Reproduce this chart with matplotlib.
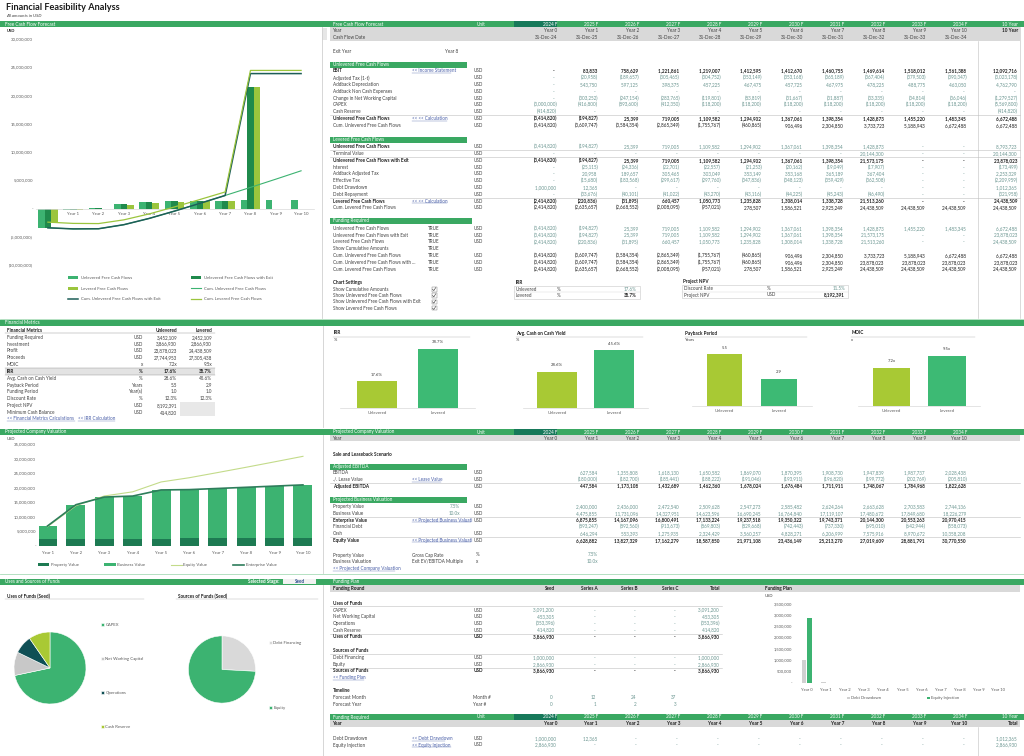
import matplotlib.pyplot as plt
from matplotlib.patches import Rectangle, Patch
from matplotlib.lines import Line2D

plt.rcParams['font.family'] = ['Lato', 'DejaVu Sans']

W, H = 1024, 756

# ---------------- data ----------------
years = ["Year 0", "Year 1", "Year 2", "Year 3", "Year 4", "Year 5",
         "Year 6", "Year 7", "Year 8", "Year 9", "Year 10"]
fc_years = ["2024 F", "2025 F", "2026 F", "2027 F", "2028 F", "2029 F",
            "2030 F", "2031 F", "2032 F", "2033 F", "2034 F"]
cf_dates = ["31-Dec-24", "31-Dec-25", "31-Dec-26", "31-Dec-27", "31-Dec-28", "31-Dec-29",
            "31-Dec-30", "31-Dec-31", "31-Dec-32", "31-Dec-33", "31-Dec-34"]

ebit = [0, 83833, 758629, 1221861, 1219007, 1412595, 1412670, 1460755, 1469614, 1518012, 1561388]
adj_tax = [0, -20958, -189657, -305465, -304752, -353149, -353168, -365189, -367404, -379503, -390347]
depreciation = [0, 543750, 597125, 398375, 457225, 467475, 457725, 467975, 478225, 488775, 463050]
non_cash = [0, 0, 0, 0, 0, 0, 0, 0, 0, 0, 0]
nwc_change = [0, -303252, -247154, -283765, -119801, -83819, -31667, -31887, -33335, -34814, -36046]
capex = [-3000000, -416800, -893600, -412350, -118200, -118200, -118200, -118200, -118200, -118200, -118200]
cash_reserve = [-414820, 0, 0, 0, 0, 0, 0, 0, 0, 0, 0]
ufcf = [-3414820, -194827, 25399, 719005, 1109582, 1294902, 1367061, 1398354, 1428873, 1455220, 1483345]
cum_ufcf = [-3414820, -3609747, -3584354, -2865349, -1755767, -460865, 906496, 2304850, 3733723, 5188943, 6672488]
ufcf_to_exit = [-3414820, -194827, 25399, 719005, 1109582, 1294902, 1367061, 1398354, 1428873, 0, 0]
terminal_value = [0, 0, 0, 0, 0, 0, 0, 0, 20144300, 0, 0]
ufcf_exit = [-3414820, -194827, 25399, 719005, 1109582, 1294902, 1367061, 1398354, 21573175, 0, 0]
interest = [0, -25115, -24336, -22701, -22557, -21253, -20162, -19049, -17907, 0, 0]
addback_tax = [0, 20958, 189657, 305465, 303049, 353149, 353168, 365189, 367404, 0, 0]
effective_tax = [0, -15680, -183568, -299617, -297760, -347836, -348123, -359429, -362508, 0, 0]
debt_drawdown = [1000000, 12365, 0, 0, 0, 0, 0, 0, 0, 0, 0]
debt_repayment = [0, -33676, -40101, -41022, -43270, -43116, -44225, -45243, -46490, 0, 0]
lfcf = [-2414820, -220836, -31895, 660457, 1050773, 1235828, 1308014, 1338728, 21513260, 0, 0]
cum_ufcf_exit = [-3414820, -3609747, -3584354, -2865349, -1755767, -460865, 906496, 2304850, 23878023, 23878023, 23878023]
cum_lfcf = [-2414820, -2635657, -2668552, -2008095, -957021, 278507, 1586521, 2925249, 24438509, 24438509, 24438509]
equity_injection = [2866930, 0, 0, 0, 0, 0, 0, 0, 0, 0, 0]

# 10 Year column as shown
tot = {
    "ebit": 12092716, "adj_tax": -3023178, "dep": 4762790, "non_cash": 0, "nwc": -1279527,
    "capex": -5569800, "cash_res": -414820, "ufcf": 6672488, "cum_ufcf": 6672488,
    "ufcf_to_exit": 8793723, "tv": 20144300, "ufcf_exit": 23878023, "interest": -173499,
    "addback": 2253329, "eff_tax": -2209959, "debt_draw": 1012365, "debt_rep": -321958,
    "lfcf": 24438509, "cum_ufcf_exit": 23878023, "cum_lfcf": 24438509, "equity_inj": 2866930,
}

# financial metrics
metric_labels = ["Funding Required", "Investment", "Profit", "Proceeds", "MOIC", "IRR",
                 "Avg. Cash on Cash Yield", "Payback Period", "Funding Period", "Discount Rate",
                 "Project NPV", "Minimum Cash Balance"]
metric_units = ["USD", "USD", "USD", "USD", "x", "%", "%", "Years", "Year(s)", "%", "USD", "USD"]
funding_required = [3452109, 2452109]
investment = [3866930, 2866930]
profit = [23878023, 24438509]
proceeds = [27744953, 27305438]
funding_period = [1.0, 1.0]
discount_rate = [12.3, 12.3]
project_npv = 8192391
min_cash = 414820

bar_cats = ["Unlevered", "Levered"]
irr = [17.6, 38.7]
coc_yield = [28.6, 45.6]
payback = [5.5, 2.9]
moic = [7.2, 9.5]

# projected company valuation (Year 1 .. Year 10)
val_years = ["Year 1", "Year 2", "Year 3", "Year 4", "Year 5",
             "Year 6", "Year 7", "Year 8", "Year 9", "Year 10"]
ebitda = [627584, 1355808, 1618130, 1650582, 1869070, 1870395, 1908730, 1947839, 1987737, 2028438]
lease_value = [-180000, -182700, -185441, -188222, -191046, -193911, -196820, -199772, -202769, -205810]
adj_ebitda = [447584, 1173108, 1432689, 1462360, 1678024, 1676484, 1711911, 1748067, 1784968, 1822628]
property_value = [2400000, 2436000, 2472540, 2509628, 2547273, 2585482, 2624264, 2663628, 2703583, 2744136]
business_value = [4475855, 11731096, 14327951, 14623596, 16690245, 16764840, 17119107, 17480672, 17849680, 18226279]
enterprise_value = [6875855, 14167096, 16800491, 17133224, 19237518, 19350322, 19743371, 20144300, 20553263, 20970415]
financial_debt = [-893247, -892560, -913673, -869803, -829668, -742443, -737330, -695010, -642944, -558073]
cash_balance = [646294, 553393, 1275935, 2324429, 3560257, 4828271, 6206999, 7575916, 8970672, 10358208]
equity_value = [6628882, 13827329, 17162279, 18587850, 21971108, 23436149, 25213270, 27019609, 28881791, 30770550]

# uses and sources of funds (seed)
uses_labels = ["CAPEX", "Net Working Capital", "Operations", "Cash Reserve"]
uses_seed = [3091200, 453305, -353396, 414820]
uses_total = 3866930
sources_labels = ["Debt Financing", "Equity"]
sources_seed = [1000000, 2866930]
rounds = ["Seed", "Series A", "Series B", "Series C", "Total"]
forecast_month = [0, 12, 24, 37]
forecast_year = [0, 1, 2, 3]

# ---------------- styling ----------------
GREEN = "#3aa862"
DARKCELL = "#17795a"
BAND = "#d9d9d9"
TXT = "#404040"
DARK = "#1e1e1e"
TEAL = "#6a9590"
LINK = "#4a5fa8"
FS = 3.3

C_UNL = "#3cb371"
C_EXIT = "#1f8a4c"
C_LEV = "#9bc53d"
C_CUM_EXIT = "#1d5e57"
C_BAR_U = "#a8c934"
C_BAR_L = "#3dba74"

COLS = [557 + 41 * k for k in range(11)]
TOTAL_X = 1018

fig = plt.figure(figsize=(W / 100, H / 100), dpi=100)


def text(x, y, s, size=FS, color=TXT, ha="left", weight="normal", **kw):
    fig.text(x / W, 1 - y / H, s, fontsize=size, color=color, ha=ha, va="center",
             fontweight=weight, **kw)


def box(x0, y0, x1, y1, color, ec="none", lw=0.0, z=0):
    fig.add_artist(Rectangle((x0 / W, 1 - y1 / H), (x1 - x0) / W, (y1 - y0) / H,
                             transform=fig.transFigure, facecolor=color, edgecolor=ec,
                             linewidth=lw, zorder=z))


def hline(x0, x1, y, color="#bfbfbf", lw=0.4):
    fig.add_artist(Line2D([x0 / W, x1 / W], [1 - y / H, 1 - y / H],
                          transform=fig.transFigure, color=color, lw=lw))


def vline(x, y0, y1, color="#bfbfbf", lw=0.4):
    fig.add_artist(Line2D([x / W, x / W], [1 - y0 / H, 1 - y1 / H],
                          transform=fig.transFigure, color=color, lw=lw))


def link(x, y, s):
    text(x, y, s, color=LINK)
    hline(x, x + len(s) * 2.05, y + 2.2, color=LINK, lw=0.25)


def num(v):
    if v == 0:
        return "-  "
    if v < 0:
        return f"({-v:,.0f})"
    return f"{v:,.0f} "


def axes_px(x0, y0, x1, y1):
    return fig.add_axes([x0 / W, 1 - y1 / H, (x1 - x0) / W, (y1 - y0) / H])


def trow(y, label, vals=None, total=None, unit="USD", bold=False, color=TEAL,
         lnk=None, flag=None, cols=COLS, line=False, vbold=None):
    if line:
        hline(330, 1020, y - 3.4)
    text(333, y, label, weight="bold" if bold else "normal", color=DARK if bold else TXT)
    if lnk:
        link(412, y, lnk)
    if flag:
        text(428, y, flag)
    if unit:
        text(474, y, unit)
    vb = bold if vbold is None else vbold
    if vals is not None:
        for v, x in zip(vals, cols):
            text(x, y, num(v), ha="right", color=color, weight="bold" if vb else "normal")
    if total is not None:
        text(TOTAL_X, y, num(total), ha="right", color=color, weight="bold" if vb else "normal")


def green_label(y0, s, x1=467):
    box(330, y0, x1, y0 + 6, GREEN)
    text(333, y0 + 3, s, color="white")


def section_band(y0, x0=0, x1=1024):
    box(x0, y0, x1, y0 + 6, GREEN)


def year_header(y0, label, total_label=None):
    box(514, y0, 557, y0 + 6, DARKCELL)
    text(333, y0 + 3, label, color="white")
    text(477, y0 + 3, "Unit", color="white")
    for x, s in zip(COLS, fc_years):
        text(x, y0 + 3, s, ha="right", color="white")
    if total_label:
        text(TOTAL_X, y0 + 3, total_label, ha="right", color="white")


# ---------------- page header ----------------
text(6, 7, "Financial Feasibility Analyss", size=6.6, weight="bold", color="#1a1a1a")
text(6, 16, "All amounts in USD", size=3.2, style="italic")

# ================= section 1: free cash flow =================
section_band(21)
text(5, 24, "Free Cash Flow Forecast", color="white")
year_header(21, "Free Cash Flow Forecast", "10 Year")
box(330, 27, 1020, 41, BAND)
text(333, 30.5, "Year")
text(333, 37.5, "Cash Flow Date")
for x, s, d in zip(COLS, years, cf_dates):
    text(x, 30.5, s, ha="right")
    text(x, 37.5, d, ha="right")
text(TOTAL_X, 30.5, "10 Year", ha="right", weight="bold", color=DARK)
vline(978, 41, 318)
vline(1020, 27, 318)
vline(322, 27, 318, color="#d0d0d0", lw=0.6)
box(322, 28, 327, 40, "#e6e6e6")

text(333, 51.5, "Exit Year")
text(458, 51.5, "Year 8", ha="right")

green_label(62, "Unlevered Free Cash Flows")
y = 71.0
dy = 6.78
trow(y, "EBIT", ebit, tot["ebit"], bold=True, color=DARK, lnk="<< Income Statement")
trow(y + dy, "Adjusted Tax (1-t)", adj_tax, tot["adj_tax"])
trow(y + 2 * dy, "Addback Depreciation", depreciation, tot["dep"])
trow(y + 3 * dy, "Addback Non Cash Expenses", non_cash, tot["non_cash"])
trow(y + 4 * dy, "Change in Net Working Capital", nwc_change, tot["nwc"])
trow(y + 5 * dy, "CAPEX", capex, tot["capex"])
trow(y + 6 * dy, "Cash Reserve", cash_reserve, tot["cash_res"])
trow(y + 7 * dy, "Unlevered Free Cash Flows", ufcf, tot["ufcf"], bold=True, color=DARK,
     lnk="<< << Calculation", line=True)
trow(y + 8 * dy, "Cum. Unlevered Free Cash Flows", cum_ufcf, tot["cum_ufcf"], color=DARK)

green_label(136.5, "Levered Free Cash Flows")
y = 146.8
trow(y, "Unlevered Free Cash Flows", ufcf_to_exit, tot["ufcf_to_exit"], bold=True, vbold=False)
trow(y + dy, "Terminal Value", terminal_value, tot["tv"], line=True)
trow(y + 2 * dy, "Unlevered Free Cash Flows with Exit", ufcf_exit, tot["ufcf_exit"], bold=True,
     color=DARK, line=True)
trow(y + 3 * dy, "Interest", interest, tot["interest"])
trow(y + 4 * dy, "Addback Adjusted Tax", addback_tax, tot["addback"])
trow(y + 5 * dy, "Effective Tax", effective_tax, tot["eff_tax"])
trow(y + 6 * dy, "Debt Drawdown", debt_drawdown, tot["debt_draw"])
trow(y + 7 * dy, "Debt Repayment", debt_repayment, tot["debt_rep"])
trow(y + 8 * dy, "Levered Free Cash Flows", lfcf, tot["lfcf"], bold=True, color=DARK,
     lnk="<< << Calculation", line=True)
trow(y + 9 * dy, "Cum. Levered Free Cash Flows", cum_lfcf, tot["cum_lfcf"], color=DARK)

green_label(217.5, "Funding Required", x1=472)
y = 228.4
trow(y, "Unlevered Free Cash Flows", ufcf, tot["ufcf"], flag="TRUE")
trow(y + dy, "Unlevered Free Cash Flows with Exit", ufcf_exit, tot["ufcf_exit"], flag="TRUE")
trow(y + 2 * dy, "Levered Free Cash Flows", lfcf, tot["lfcf"], flag="TRUE")
trow(y + 3 * dy, "Show Cumulative Amounts", flag="TRUE", unit=None)
trow(y + 4 * dy, "Cum. Unlevered Free Cash Flows", cum_ufcf, tot["cum_ufcf"], flag="TRUE", color=DARK)
trow(y + 5 * dy, "Cum. Unlevered Free Cash Flows with ...", cum_ufcf_exit, tot["cum_ufcf_exit"],
     flag="TRUE", color=DARK)
trow(y + 6 * dy, "Cum. Levered Free Cash Flows", cum_lfcf, tot["cum_lfcf"], flag="TRUE", color=DARK)

text(333, 282.7, "Chart Settings", weight="bold", color=DARK)
for i, s in enumerate(["Show Cumulative Amounts", "Show Unlevered Free Cash Flows",
                       "Show Unlevered Free Cash Flows with Exit", "Show Levered Free Cash Flows"]):
    yy = 289.2 + i * 6.3
    text(333, yy, s)
    box(431.5, yy - 2.3, 436.5, yy + 2.3, "white", ec="#707070", lw=0.3, z=3)
    fig.add_artist(Line2D([432.5 / W, 433.8 / W, 435.7 / W], [1 - yy / H, 1 - (yy + 1.4) / H,
                          1 - (yy - 1.6) / H], transform=fig.transFigure, color="#303030", lw=0.4,
                          zorder=4))

# IRR / NPV boxes
text(516, 282.7, "IRR", weight="bold", color=DARK)
box(514, 286, 640, 299, "none", ec="#c8c8c8", lw=0.4)
hline(514, 640, 292.5, color="#d8d8d8", lw=0.3)
text(516, 289.2, "Unlevered")
text(557, 289.2, "%")
text(637, 289.2, f"{irr[0]:.1f}%", ha="right", color=TEAL)
text(516, 295.5, "Levered")
text(557, 295.5, "%")
text(637, 295.5, f"{irr[1]:.1f}%", ha="right", weight="bold", color=DARK)

text(683, 281.7, "Project NPV", weight="bold", color=DARK)
box(682, 285, 848, 298.5, "none", ec="#c8c8c8", lw=0.4)
hline(682, 848, 291.8, color="#d8d8d8", lw=0.3)
text(684, 288.5, "Discount Rate")
text(767, 288.5, "%")
text(845, 288.5, "11.5%", ha="right", color=TEAL)
text(684, 295.0, "Project NPV")
text(767, 295.0, "USD")
text(845, 295.0, f"{project_npv:,.0f}", ha="right", weight="bold", color=DARK)

hline(0, 1024, 318.5, color="#a8dcb8", lw=0.6)

# ---- FCF chart ----
text(7, 31, "USD", size=3.0, weight="bold", color=DARK)
ax = axes_px(36, 39, 314, 265)
xs = list(range(len(years)))
bw = 0.26
h1 = ax.bar([x - bw for x in xs], ufcf, bw, color=C_UNL, label="Unlevered Free Cash Flows", zorder=2)
h2 = ax.bar(xs, ufcf_exit, bw, color=C_EXIT, label="Unlevered Free Cash Flows with Exit", zorder=2)
h3 = ax.bar([x + bw for x in xs], lfcf, bw, color=C_LEV, label="Levered Free Cash Flows", zorder=2)
l1, = ax.plot(xs, cum_ufcf, color=C_UNL, lw=0.8, label="Cum. Unlevered Free Cash Flows", zorder=3)
l2, = ax.plot(xs, cum_ufcf_exit, color=C_CUM_EXIT, lw=1.1,
              label="Cum. Unlevered Free Cash Flows with Exit", zorder=3)
l3, = ax.plot(xs, cum_lfcf, color=C_LEV, lw=0.9, label="Cum. Levered Free Cash Flows", zorder=3)
ax.set_xlim(-0.47, 10.51)
ax.set_ylim(-10e6, 30e6)
yt = [-10e6, -5e6, 0, 5e6, 10e6, 15e6, 20e6, 25e6, 30e6]
ax.set_yticks(yt)
ax.set_yticklabels(["-" if v == 0 else (f"({-v:,.0f})" if v < 0 else f"{v:,.0f}") for v in yt])
ax.set_xticks(xs)
ax.set_xticklabels(years)
ax.tick_params(length=0, labelsize=3.1, labelcolor="#595959")
ax.tick_params(axis="x", pad=2.5)
ax.tick_params(axis="y", pad=2.2)
for s in ["top", "right", "left"]:
    ax.spines[s].set_visible(False)
ax.spines["bottom"].set_position(("data", 0))
ax.spines["bottom"].set_color("#d9d9d9")
ax.spines["bottom"].set_linewidth(0.5)
ax.set_facecolor("none")
ax.legend(handles=[h1, h3, l2, h2, l1, l3], ncol=2, loc="upper left",
          bbox_to_anchor=(66 / W, 1 - 274 / H), bbox_transform=fig.transFigure,
          frameon=False, fontsize=3.1, handlelength=2.4, handleheight=0.5,
          labelspacing=1.55, columnspacing=7.0, borderpad=0, handletextpad=0.6,
          labelcolor="#595959")

# ================= section 2: financial metrics =================
section_band(320)
text(5, 323, "Financial Metrics", color="white")
text(7, 330, "Financial Metrics", weight="bold", color=DARK)
text(177, 330, "Unlevered", ha="right", weight="bold", color=DARK)
text(212, 330, "Levered", ha="right", weight="bold", color=DARK)
hline(5, 215, 333.2, color="#909090", lw=0.3)
metric_unl = [f"{funding_required[0]:,.0f}", f"{investment[0]:,.0f}", f"{profit[0]:,.0f}",
              f"{proceeds[0]:,.0f}", f"{moic[0]:.1f}x", f"{irr[0]:.1f}%", f"{coc_yield[0]:.1f}%",
              f"{payback[0]:.1f}", f"{funding_period[0]:.1f}", f"{discount_rate[0]:.1f}%",
              f"{project_npv:,.0f}", f"{min_cash:,.0f}"]
metric_lev = [f"{funding_required[1]:,.0f}", f"{investment[1]:,.0f}", f"{profit[1]:,.0f}",
              f"{proceeds[1]:,.0f}", f"{moic[1]:.1f}x", f"{irr[1]:.1f}%", f"{coc_yield[1]:.1f}%",
              f"{payback[1]:.1f}", f"{funding_period[1]:.1f}", f"{discount_rate[1]:.1f}%", "", ""]
box(180, 402, 215, 416, "#e8e8e8")
for i, (lab, u, a, b) in enumerate(zip(metric_labels, metric_units, metric_unl, metric_lev)):
    yy = 337.3 + i * 6.83
    bold = lab == "IRR"
    if bold:
        box(5, yy - 3.3, 215, yy + 3.3, "#e3e3e3")
        hline(5, 215, yy - 3.3, color="#909090", lw=0.3)
        hline(5, 215, yy + 3.3, color="#909090", lw=0.3)
    c = DARK if bold else TXT
    w = "bold" if bold else "normal"
    text(7, yy, lab, weight=w, color=c)
    text(143, yy, u, ha="right", weight=w, color=c)
    text(177, yy, a, ha="right", weight=w, color=c)
    text(212, yy, b, ha="right", weight=w, color=c)
link(7, 419, "<< Financial Metrics Calculations")
link(78, 419, "<< IRR Calculation")
vline(322.5, 326, 427, color="#d0d0d0", lw=0.6)


def small_bar(x0, x1, ybase, ytop, ymax, vals, title, unit, fmt, width):
    text(x0 - 7, 333, title, weight="bold", color=DARK)
    text(x0 - 7, 340, unit, size=3.0)
    hline(x0 - 7, x1 - 5, 336.5, color="#b0b0b0", lw=0.3)
    a = axes_px(x0, ytop, x1, ybase)
    bars = a.bar([0, 1], vals, width, color=[C_BAR_U, C_BAR_L])
    for r, v in zip(bars, vals):
        a.annotate(fmt(v), (r.get_x() + r.get_width() / 2, v), xytext=(0, 3.2),
                   textcoords="offset points", ha="center", va="bottom", fontsize=3.1,
                   color="#404040")
    a.set_xlim(-0.6, 1.6)
    a.set_ylim(0, ymax)
    a.set_xticks([0, 1])
    a.set_xticklabels(bar_cats)
    a.set_yticks([])
    a.tick_params(length=0, labelsize=3.1, labelcolor="#595959", pad=2.5)
    for s in ["top", "right", "left"]:
        a.spines[s].set_visible(False)
    a.spines["bottom"].set_color("#d9d9d9")
    a.spines["bottom"].set_linewidth(0.5)
    a.set_facecolor("none")


small_bar(340.4, 474.6, 408, 339, 45.2, irr, "IRR", "%", lambda v: f"{v:.1f}%", 0.65)
small_bar(522.8, 648.2, 408, 339, 54.3, coc_yield, "Avg. Cash on Cash Yield", "%",
          lambda v: f"{v:.1f}%", 0.70)
small_bar(691.8, 811.7, 406, 339, 7.09, payback, "Payback Period", "Years",
          lambda v: f"{v:.1f}", 0.66)
small_bar(858.2, 980.3, 406, 339, 12.64, moic, "MOIC", "x", lambda v: f"{v:.1f}x", 0.67)

# ================= section 3: projected company valuation =================
section_band(429)
text(5, 432, "Projected Company Valuation", color="white")
box(514, 429, 557, 435, DARKCELL)
text(333, 432, "Projected Company Valuation", color="white")
text(477, 432, "Unit", color="white")
for x, s in zip(COLS, fc_years):
    text(x, 432, s, ha="right", color="white")
box(330, 435, 1020, 441.5, BAND)
text(333, 438.3, "Year")
for x, s in zip(COLS, years):
    text(x, 438.3, s, ha="right")
text(333, 454, "Sale and Leaseback Scenario", weight="bold", color=DARK)
green_label(463.5, "Adjusted EBITDA")
vcols = COLS[1:]
trow(472.7, "EBITDA", ebitda, cols=vcols)
trow(479.4, "./. Lease Value", lease_value, cols=vcols, lnk="<< Lease Value")
trow(486.1, "Adjusted EBITDA", adj_ebitda, cols=vcols, bold=True, color=DARK, line=True)
green_label(496.5, "Projected Business Valuation")
trow(506.7, "Property Value", property_value, cols=vcols)
text(460, 506.7, "7.5%", ha="right", color=TEAL)
trow(513.4, "Business Value", business_value, cols=vcols)
text(460, 513.4, "10.0x", ha="right", color=TEAL)
trow(520.1, "Enterprise Value", enterprise_value, cols=vcols, bold=True, color=DARK, line=True,
     lnk="<< Projected Business Valuati")
trow(526.8, "Financial Debt", financial_debt, cols=vcols, unit=None)
trow(533.5, "Cash", cash_balance, cols=vcols)
trow(540.2, "Equity Value", equity_value, cols=vcols, bold=True, color=DARK, line=True,
     lnk="<< Projected Business Valuati")
text(333, 555, "Property Value")
text(412, 555, "Gross Cap Rate")
text(476, 555, "%")
text(COLS[1], 555, "7.5%", ha="right", color=TEAL)
text(333, 561.8, "Business Valuation")
text(412, 561.8, "Exit EV/EBITDA Multiple")
text(476, 561.8, "x")
text(COLS[1], 561.8, "10.0x", ha="right", color=TEAL)
link(333, 568.5, "<< Projected Company Valuation")
vline(322.5, 435, 573, color="#d0d0d0", lw=0.6)
hline(0, 1024, 573.5, color="#a8dcb8", lw=0.6)

# valuation chart
text(7, 438.5, "USD", size=3.0)
ax2 = axes_px(39, 444, 318, 546)
vx = list(range(len(val_years)))
b1 = ax2.bar(vx, property_value, 0.67, color="#1d7a52", label="Property Value", zorder=2)
b2 = ax2.bar(vx, business_value, 0.67, bottom=property_value, color=C_UNL,
             label="Business Value", zorder=2)
e1, = ax2.plot(vx, equity_value, color="#c3db8a", lw=0.8, label="Equity Value", zorder=3)
e2, = ax2.plot(vx, enterprise_value, color="#2e7d5b", lw=1.2, label="Enterprise Value", zorder=3)
ax2.set_xlim(-0.3, 9.53)
ax2.set_ylim(0, 35e6)
yt2 = [0, 5e6, 10e6, 15e6, 20e6, 25e6, 30e6, 35e6]
ax2.set_yticks(yt2)
ax2.set_yticklabels(["-" if v == 0 else f"{v:,.0f}" for v in yt2])
ax2.set_xticks(vx)
ax2.set_xticklabels(val_years)
ax2.tick_params(length=0, labelsize=3.1, labelcolor="#595959")
ax2.tick_params(axis="x", pad=3.5)
ax2.tick_params(axis="y", pad=2.2)
for s in ["top", "right", "left", "bottom"]:
    ax2.spines[s].set_visible(False)
ax2.set_facecolor("none")
ax2.legend(handles=[b1, b2, e1, e2], ncol=4, loc="center left",
           bbox_to_anchor=(36 / W, 1 - 565 / H), bbox_transform=fig.transFigure,
           frameon=False, fontsize=3.1, handlelength=2.6, handleheight=0.5,
           columnspacing=6.0, borderpad=0, handletextpad=0.3, labelcolor="#595959")

# ================= section 4: uses and sources / funding plan =================
section_band(578.5)
text(5, 581.5, "Uses and Sources of Funds", color="white")
text(280, 581.5, "Selected Stage:", color="white", weight="bold", ha="right")
box(283, 579.3, 316, 583.8, "#f2f2f2")
text(300, 581.5, "Seed", color="#2f4f8f", weight="bold", ha="center")
text(333, 581.5, "Funding Plan", color="white")
vline(322.5, 585, 756, color="#d0d0d0", lw=0.6)

text(7, 596, "Uses of Funds (Seed)", weight="bold", color=DARK)
hline(5, 144, 599.2, color="#b0b0b0", lw=0.3)
text(178, 596, "Sources of Funds (Seed)", weight="bold", color=DARK)
hline(176, 318, 599.2, color="#b0b0b0", lw=0.3)

p1 = axes_px(5, 623, 95, 713)
w1, _ = p1.pie([abs(v) for v in uses_seed], startangle=90, counterclock=False,
               colors=[C_UNL, "#c8c8c8", "#0f4f55", "#a9c934"],
               wedgeprops=dict(edgecolor="white", linewidth=0.4))
p1.set_aspect("equal")
p1.legend(w1, uses_labels, loc="upper left", bbox_to_anchor=(99 / W, 1 - 620.5 / H),
          bbox_transform=fig.transFigure, frameon=False, fontsize=3.1, handlelength=0.6,
          handleheight=0.6, handletextpad=0.4, labelspacing=7.0, borderpad=0,
          labelcolor="#595959")

p2 = axes_px(180, 627.5, 264, 711.5)
w2, _ = p2.pie(sources_seed, startangle=90, counterclock=False,
               colors=["#d9d9d9", C_UNL], wedgeprops=dict(edgecolor="white", linewidth=0.4))
p2.set_aspect("equal")
p2.legend(w2, sources_labels, loc="upper left", bbox_to_anchor=(267 / W, 1 - 638.5 / H),
          bbox_transform=fig.transFigure, frameon=False, fontsize=3.1, handlelength=0.6,
          handleheight=0.6, handletextpad=0.4, labelspacing=14.3, borderpad=0,
          labelcolor="#595959")

# funding plan table
box(330, 585, 1020, 592, BAND)
text(333, 588.5, "Funding Round", weight="bold", color=DARK)
RX = [555, 598, 638, 678, 720]
for x, s in zip(RX, rounds):
    text(x, 588.5, s, ha="right", weight="bold", color=DARK)
text(765, 588.5, "Funding Plan", weight="bold", color=DARK)

text(333, 603.3, "Uses of Funds", weight="bold", color=DARK)
hline(330, 722, 606.3)
for i, (lab, v) in enumerate(zip(uses_labels, uses_seed)):
    yy = 610 + i * 6.68
    text(333, yy, lab)
    text(474, yy, "USD")
    text(RX[0], yy, num(v), ha="right", color=TEAL)
    for x in RX[1:4]:
        text(x, yy, num(0), ha="right", color=TEAL)
    text(RX[4], yy, num(v), ha="right", color=TEAL)
hline(330, 722, 633.5)
text(333, 636.8, "Uses of Funds", weight="bold", color=DARK)
text(474, 636.8, "USD", weight="bold", color=DARK)
text(RX[0], 636.8, num(uses_total), ha="right", weight="bold", color=DARK)
for x in RX[1:4]:
    text(x, 636.8, num(0), ha="right", weight="bold", color=DARK)
text(RX[4], 636.8, num(uses_total), ha="right", weight="bold", color=DARK)

text(333, 651, "Sources of Funds", weight="bold", color=DARK)
hline(330, 722, 654.2)
for i, (lab, v) in enumerate(zip(sources_labels, sources_seed)):
    yy = 657.7 + i * 6.68
    text(333, yy, lab)
    text(474, yy, "USD")
    text(RX[0], yy, num(v), ha="right", color=TEAL)
    for x in RX[1:4]:
        text(x, yy, num(0), ha="right", color=TEAL)
    text(RX[4], yy, num(v), ha="right", color=TEAL)
hline(330, 722, 667.7)
text(333, 671, "Sources of Funds", weight="bold", color=DARK)
text(474, 671, "USD", weight="bold", color=DARK)
text(RX[0], 671, num(sum(sources_seed)), ha="right", weight="bold", color=DARK)
for x in RX[1:4]:
    text(x, 671, num(0), ha="right", weight="bold", color=DARK)
text(RX[4], 671, num(sum(sources_seed)), ha="right", weight="bold", color=DARK)
link(333, 677.8, "<< Funding Plan")

text(333, 691, "Timeline", weight="bold", color=DARK)
text(333, 697.7, "Forecast Month")
text(473, 697.7, "Month #")
text(333, 704.4, "Forecast Year")
text(473, 704.4, "Year #")
for x, m, yv in zip(RX[:4], forecast_month, forecast_year):
    text(x - 2, 697.7, str(m), ha="right", color=TEAL)
    text(x - 2, 704.4, str(yv), ha="right", color=TEAL)

# funding required
box(330, 714, 1024, 720.3, GREEN)
year_header(714, "Funding Required", "10 Year")
box(330, 720.3, 1020, 727, BAND)
text(333, 723.6, "Year", weight="bold", color=DARK)
for x, s in zip(COLS, years):
    text(x, 723.6, s, ha="right", weight="bold", color=DARK)
text(TOTAL_X, 723.6, "Total", ha="right", weight="bold", color=DARK)
vline(978, 727, 756)
trow(738.3, "Debt Drawdown", debt_drawdown, tot["debt_draw"], lnk="<< Debt Drawdown")
trow(745, "Equity Injection", equity_injection, tot["equity_inj"], lnk="<< Equity Injection")

# funding plan chart
text(765, 596, "USD", size=3.0)
ax3 = axes_px(795, 603.5, 1015, 682.7)
fx = list(range(len(years)))
d1 = ax3.bar([x - 0.12 for x in fx], debt_drawdown, 0.21, color="#d0d0d0", label="Debt Drawdown")
d2 = ax3.bar([x + 0.13 for x in fx], equity_injection, 0.26, color=C_UNL, label="Equity Injection")
ax3.set_xlim(-0.61, 10.89)
ax3.set_ylim(0, 3.5e6)
yt3 = [0, 5e5, 1e6, 1.5e6, 2e6, 2.5e6, 3e6, 3.5e6]
ax3.set_yticks(yt3)
ax3.set_yticklabels(["-" if v == 0 else f"{v:,.0f}" for v in yt3])
ax3.set_xticks(fx)
ax3.set_xticklabels(years)
ax3.tick_params(length=0, labelsize=3.0, labelcolor="#595959")
ax3.tick_params(axis="x", pad=3.5)
ax3.tick_params(axis="y", pad=2.2)
for s in ["top", "right", "left", "bottom"]:
    ax3.spines[s].set_visible(False)
ax3.set_facecolor("none")
ax3.legend(handles=[d1, d2], ncol=2, loc="center left",
           bbox_to_anchor=(845 / W, 1 - 698.3 / H), bbox_transform=fig.transFigure,
           frameon=False, fontsize=3.0, handlelength=0.6, handleheight=0.6,
           columnspacing=11.0, borderpad=0, handletextpad=0.4, labelcolor="#595959")

fig.savefig("out.png", dpi=100)
